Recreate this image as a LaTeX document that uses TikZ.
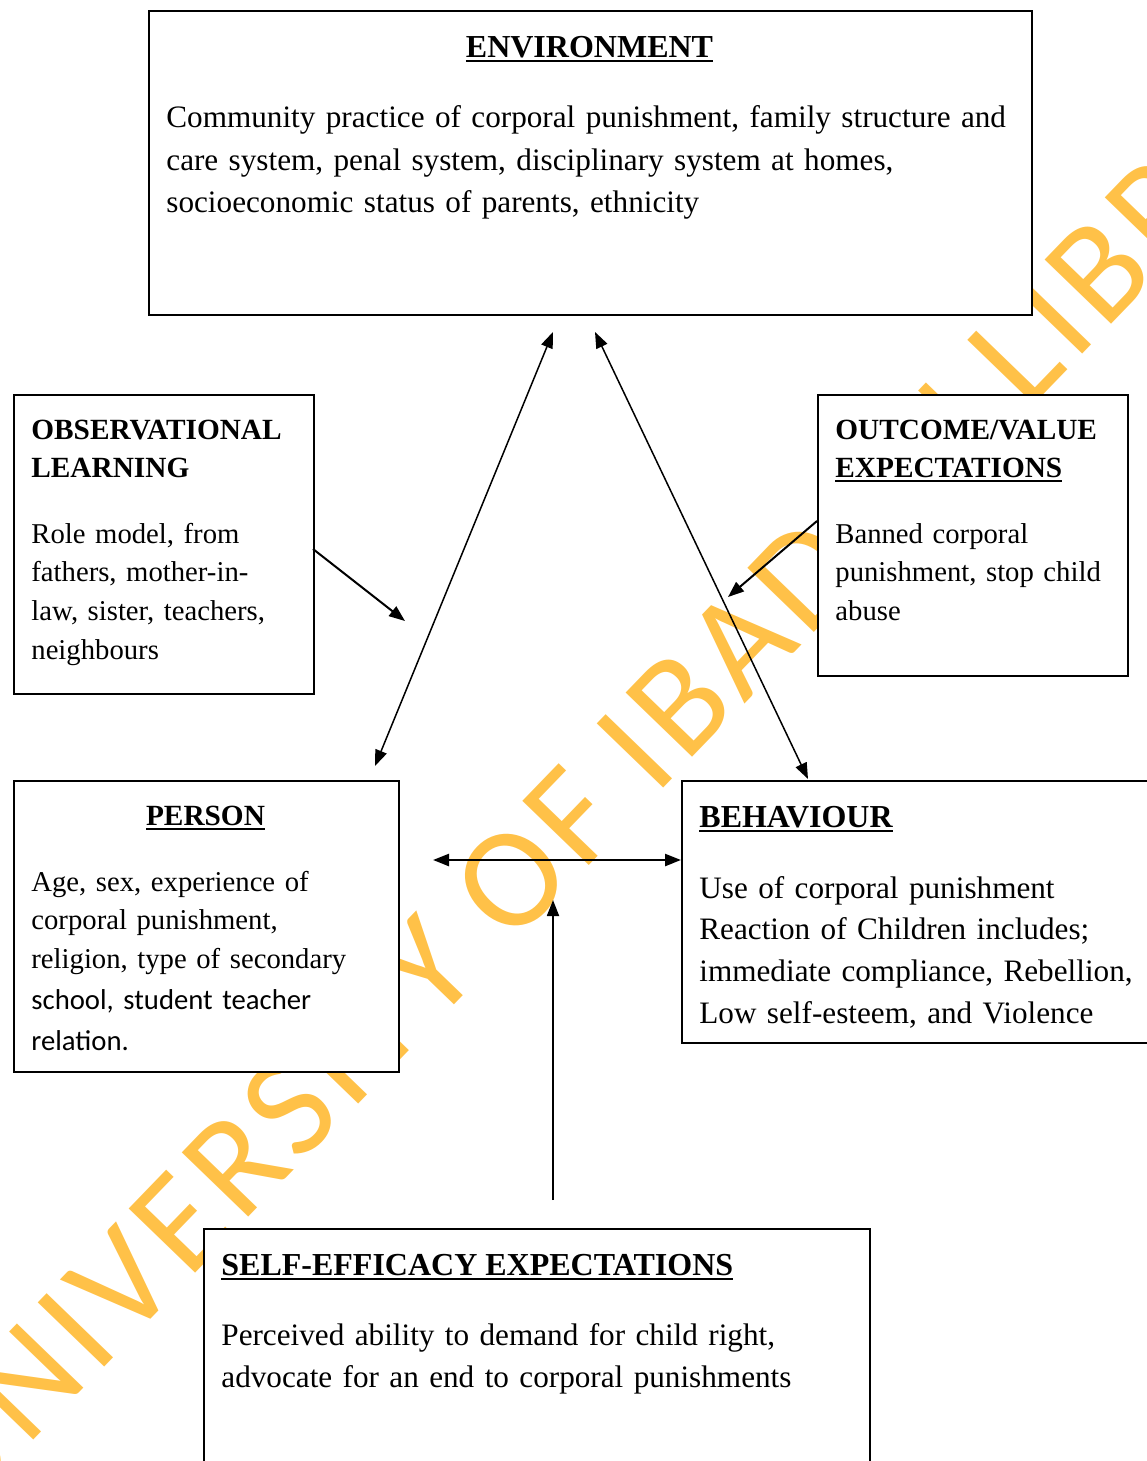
\documentclass[tikz,border=0pt]{standalone}
\usepackage{fontspec}
\setmainfont{Liberation Serif}
\newfontfamily\calfont{Carlito}
\newfontfamily\wmfont[LetterSpace=5.0]{Carlito}
\usetikzlibrary{arrows.meta}
\definecolor{wmorange}{RGB}{255,193,72}
\newcommand{\myul}[1]{\leavevmode\setbox0\hbox{#1}\rlap{\rule[-2.4pt]{\wd0}{0.9pt}}\box0}
\begin{document}
\begin{tikzpicture}[x=0.5pt,y=-0.5pt,
  box/.style={draw=black, line width=1pt, fill=white, inner sep=0pt, anchor=north west},
  bigtxt/.style={font=\fontsize{15.6}{21.25}\selectfont, inner sep=0pt, align=left, text width=460pt, anchor=base west},
  bigtitle/.style={font=\fontsize{16}{21}\selectfont\bfseries, inner sep=0pt},
  smalltxt/.style={font=\fontsize{14.35}{19.35}\selectfont, inner sep=0pt, align=left, text width=200pt, anchor=base west},
  smalltitle/.style={font=\fontsize{14.65}{19}\selectfont\bfseries, inner sep=0pt, align=left, text width=200pt, anchor=base west},
  conn/.style={draw=black, line width=0.8pt},
  tip/.tip={Triangle[length=8pt,width=6pt]}
]
\useasboundingbox (0,0) rectangle (1146,1461);

% watermark
\node[text=wmorange, rotate=46, font=\wmfont\fontsize{72}{72}\selectfont, inner sep=0pt] (wm) at (642,744) {UNIVERSITY OF IBADAN LIBRARY};

% boxes
\node[box, minimum width=441.5pt, minimum height=152pt] (env) at (148,10) {};
\node[box, minimum width=150pt, minimum height=149.5pt] (obs) at (13,394) {};
\node[box, minimum width=155pt, minimum height=140.5pt] (outc) at (817,394) {};
\node[box, minimum width=192.5pt, minimum height=145.5pt] (pers) at (13,780) {};
\node[box, minimum width=234.5pt, minimum height=131pt] (behav) at (681,780) {};
\node[box, minimum width=333pt, minimum height=122.5pt] (self) at (203,1228) {};

% texts
\node[bigtitle, anchor=base] (envT) at (589.5,57.5) {\myul{ENVIRONMENT}};
\node[bigtxt] (envB) at (166,127.5) {Community practice of corporal punishment, family structure and\\care system, penal system, disciplinary system at homes,\\socioeconomic status of parents, ethnicity};

\node[smalltitle] (obsT) at (31,439) {OBSERVATIONAL\\LEARNING};
\node[smalltxt] (obsB) at (31,543) {Role model, from\\fathers, mother-in-\\law, sister, teachers,\\neighbours};

\node[smalltitle] (outcT) at (835,439) {OUTCOME/VALUE\\\myul{EXPECTATIONS}};
\node[smalltxt] (outcB) at (835,543) {Banned corporal\\punishment, stop child\\abuse};

\node[font=\fontsize{14.65}{19}\selectfont\bfseries, inner sep=0pt, anchor=base] (persT) at (205.5,825) {\myul{PERSON}};
\node[smalltxt, font=\fontsize{14.35}{19.25}\selectfont] (persB1) at (31,891) {Age, sex, experience of\\corporal punishment,\\religion, type of secondary};
\node[smalltxt, font=\calfont\fontsize{14.35}{20.5}\selectfont] (persB2) at (31,1009) {school, student teacher\\relation.};

\node[bigtitle, anchor=base west] (behavT) at (699,827) {\myul{BEHAVIOUR}};
\node[bigtxt, font=\fontsize{15.6}{20.85}\selectfont] (behavB) at (699,898) {Use of corporal punishment\\Reaction of Children includes;\\immediate compliance, Rebellion,\\Low self-esteem, and Violence};

\node[bigtitle, anchor=base west] (selfT) at (221,1275) {\myul{SELF-EFFICACY EXPECTATIONS}};
\node[bigtxt, font=\fontsize{15.6}{21}\selectfont] (selfB) at (221,1345) {Perceived ability to demand for child right,\\advocate for an end to corporal punishments};

% connector end points
\coordinate (envL) at (553,332);
\coordinate (persTop) at (375,766);
\coordinate (envR) at (595,332);
\coordinate (behavTop) at (808,779);
\coordinate (obsOut) at (313,549);
\coordinate (obsIn) at (405,621);
\coordinate (outcOut) at (817,521);
\coordinate (outcIn) at (728,597);
\coordinate (persRight) at (433,860);
\coordinate (behavLeft) at (681,860);
\coordinate (selfUp) at (553,1200);
\coordinate (selfIn) at (553,900);

% connectors
\draw[conn, line width=0.75pt, {tip}-{tip}] (envL) -- (persTop);
\draw[conn, line width=0.75pt, {tip}-{tip}] (envR) -- (behavTop);
\draw[conn, line width=1pt, -{tip}] (obsOut) -- (obsIn);
\draw[conn, line width=1pt, -{tip}] (outcOut) -- (outcIn);
\draw[conn, line width=1.2pt, {tip}-{tip}] (persRight) -- (behavLeft);
\draw[conn, line width=0.9pt, -{tip}] (selfUp) -- (selfIn);
\end{tikzpicture}
\end{document}
